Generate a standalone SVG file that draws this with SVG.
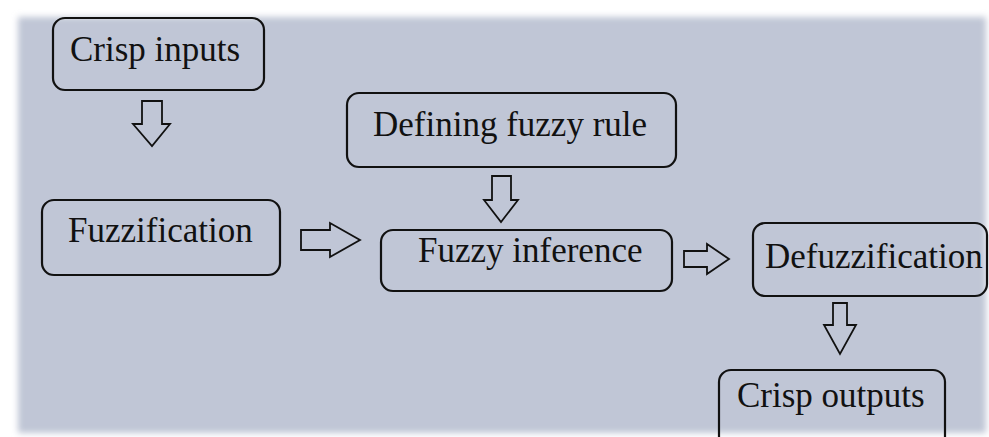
<svg xmlns="http://www.w3.org/2000/svg" width="989" height="437" viewBox="0 0 989 437">
<defs>
<filter id="soft" x="-5%" y="-5%" width="110%" height="110%"><feGaussianBlur stdDeviation="3"/></filter>
<style>
.box{fill:none;stroke:#111;stroke-width:2.2}
.lbl{font-family:"Liberation Serif","Times New Roman",serif;font-size:35px;fill:#111}
.arr{fill:none;stroke:#111;stroke-width:1.8;stroke-linejoin:miter}
</style>
</defs>
<rect width="989" height="437" fill="#ffffff"/>
<rect x="18" y="17" width="968" height="416" fill="#c0c6d6" filter="url(#soft)"/>
<g id="crisp-inputs"><rect class="box" x="53" y="18" width="211" height="72" rx="12"/><text class="lbl" x="70" y="61">Crisp inputs</text></g>
<g id="fuzzification"><rect class="box" x="42" y="200" width="238" height="75" rx="12"/><text class="lbl" x="68" y="242">Fuzzification</text></g>
<g id="defining-rule"><rect class="box" x="347" y="93" width="329" height="74" rx="12"/><text class="lbl" x="373" y="136">Defining fuzzy rule</text></g>
<g id="fuzzy-inference"><rect class="box" x="381" y="230" width="291" height="61" rx="12"/><text class="lbl" x="418" y="262">Fuzzy inference</text></g>
<g id="defuzzification"><rect class="box" x="753" y="223" width="234" height="73" rx="12"/><text class="lbl" x="765" y="268">Defuzzification</text></g>
<g id="crisp-outputs"><rect class="box" x="719" y="370" width="226" height="80" rx="12"/><text class="lbl" x="737" y="407">Crisp outputs</text></g>
<g id="connectors">
<path class="arr" d="M142 101 H162 V124 H170 L152 146 L133 124 H142 Z"/>
<path class="arr" d="M301 230 H330 V223 L360 240 L330 257 V250 H301 Z"/>
<path class="arr" d="M492 176 H511 V200 H518 L501 222 L484 200 H492 Z"/>
<path class="arr" d="M684 251 H707 V244 L729 259 L707 274 V267 H684 Z"/>
<path class="arr" d="M833 303 H847 V325 H856 L840 354 L824 325 H833 Z"/>
</g>
</svg>
